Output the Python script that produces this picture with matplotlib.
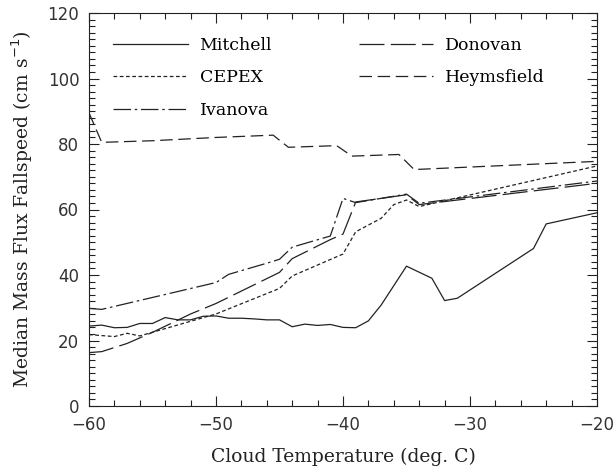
import numpy as np
import matplotlib
matplotlib.use('Agg')
import matplotlib.pyplot as plt
from matplotlib.ticker import MultipleLocator

# data (temperature in deg C, fallspeed in cm/s)
mitchell_t = [-60, -59, -58, -57, -56, -55, -54, -53, -52, -51, -50, -49, -48, -47, -46, -45,
              -44, -43, -42, -41, -40, -39, -38, -37, -35, -33, -32, -31, -25, -24, -20]
mitchell_v = [24.4, 24.7, 23.9, 24.0, 25.2, 25.2, 27.0, 26.3, 26.3, 27.4, 27.5, 26.8, 26.8, 26.6, 26.3, 26.3,
              24.2, 25.0, 24.6, 24.9, 24.0, 23.9, 26.0, 30.8, 42.7, 39.0, 32.2, 32.9, 48.1, 55.6, 59.0]

cepex_t = [-60, -59, -58, -57, -56, -50, -45, -44, -40, -39, -37, -36, -35, -34, -20]
cepex_v = [21.8, 21.5, 21.2, 22.2, 21.4, 28.1, 35.9, 39.7, 46.4, 53.2, 57.3, 61.5, 62.9, 60.9, 73.3]

ivanova_t = [-60, -59, -50, -49, -46, -45, -44, -41, -40, -39, -35, -34, -20]
ivanova_v = [29.8, 29.5, 37.7, 40.2, 43.6, 44.8, 48.5, 51.9, 63.4, 62.1, 64.7, 61.9, 68.7]

donovan_t = [-60, -59, -57, -55, -52, -50, -45, -44, -41, -40, -39, -35, -34, -20]
donovan_v = [16.3, 16.6, 19.1, 22.5, 28.1, 31.3, 40.8, 45.0, 50.8, 52.5, 62.3, 64.5, 61.5, 68.0]

heyms_t = [-60, -59, -55, -50, -45.5, -44.3, -40.5, -39.3, -35.6, -34.4, -20]
heyms_v = [89.5, 80.5, 81.0, 82.0, 82.7, 79.0, 79.5, 76.3, 76.8, 72.2, 74.7]

plt.rcParams['font.family'] = 'DejaVu Serif'
col = '#222222'
lw = 0.9

fig = plt.figure(figsize=(6.15, 4.74), dpi=100)
ax = fig.add_axes([89/615, 68/474, 508/615, 393/474])

ax.plot(mitchell_t, mitchell_v, color=col, lw=lw, ls='-', label='Mitchell')
ax.plot(cepex_t, cepex_v, color=col, lw=lw, dashes=(3, 2), label='CEPEX')
ax.plot(ivanova_t, ivanova_v, color=col, lw=lw, dashes=(14, 3, 2, 3), label='Ivanova')
ax.plot(donovan_t, donovan_v, color=col, lw=lw, dashes=(20, 5), label='Donovan')
ax.plot(heyms_t, heyms_v, color=col, lw=lw, dashes=(10, 4.5), label='Heymsfield')

ax.set_xlim(-60, -20)
ax.set_ylim(0, 120)
ax.xaxis.set_major_locator(MultipleLocator(10))
ax.xaxis.set_minor_locator(MultipleLocator(2))
ax.yaxis.set_major_locator(MultipleLocator(20))
ax.yaxis.set_minor_locator(MultipleLocator(2))
ax.tick_params(which='both', direction='in', top=True, right=True, color=col)
ax.tick_params(which='major', length=7, width=0.8, labelsize=12, pad=7, labelcolor='#333333')
ax.tick_params(which='minor', length=4, width=0.8)
for lab in ax.get_xticklabels() + ax.get_yticklabels():
    lab.set_family('DejaVu Sans')
for s in ax.spines.values():
    s.set_linewidth(0.8)
    s.set_color(col)

ax.set_xlabel('Cloud Temperature (deg. C)', fontsize=13.5, labelpad=10, color='#222222')
ax.set_ylabel('Median Mass Flux Fallspeed (cm s$^{-1}$)', fontsize=13.5, labelpad=9, color='#222222')

ax.legend(ncol=2, frameon=False, fontsize=12.5, loc='upper left',
          bbox_to_anchor=(0.047, 0.94), borderpad=0, borderaxespad=0,
          handlelength=4.3, handletextpad=0.69, columnspacing=5.0, labelspacing=0.9)

plt.savefig('out.png', dpi=100)
